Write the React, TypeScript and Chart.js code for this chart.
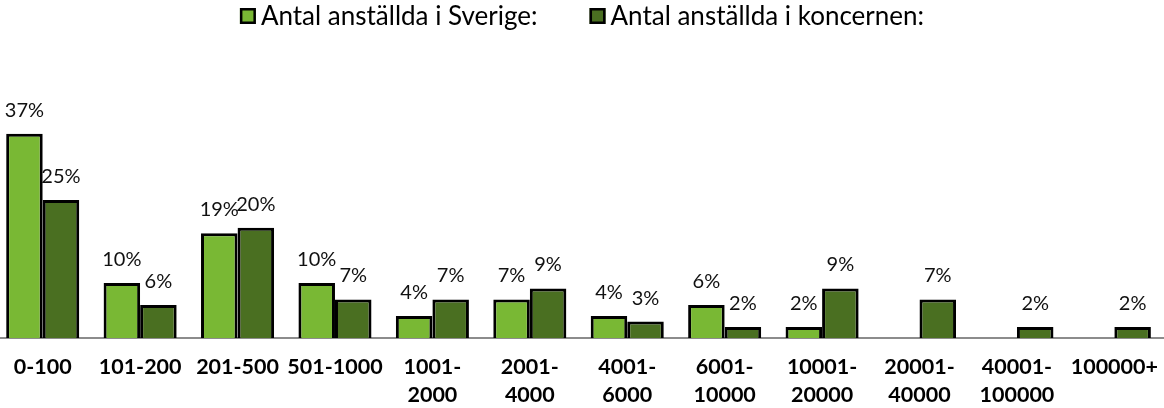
import React, { useEffect, useRef } from 'react';
import { Chart, registerables } from 'chart.js';

Chart.register(...registerables);

const categories: (string | string[])[] = [
  '0-100',
  '101-200',
  '201-500',
  '501-1000',
  ['1001-', '2000'],
  ['2001-', '4000'],
  ['4001-', '6000'],
  ['6001-', '10000'],
  ['10001-', '20000'],
  ['20001-', '40000'],
  ['40001-', '100000'],
  '100000+',
];

const sverige: (number | null)[] = [37, 10, 19, 10, 4, 7, 4, 6, 2, null, null, null];
const koncernen: (number | null)[] = [25, 6, 20, 7, 7, 9, 3, 2, 9, 7, 2, 2];

const seriesNames = ['Antal anställda i Sverige:', 'Antal anställda i koncernen:'];
const seriesColors = ['#79B834', '#4A6F21'];

const valueLabels = {
  id: 'valueLabels',
  afterDatasetsDraw(chart: any) {
    const ctx = chart.ctx;
    ctx.save();
    ctx.font = '20px Lato';
    ctx.fillStyle = '#111';
    ctx.textAlign = 'center';
    ctx.textBaseline = 'alphabetic';
    chart.data.datasets.forEach((ds: any, di: number) => {
      const meta = chart.getDatasetMeta(di);
      meta.data.forEach((el: any, i: number) => {
        const v = ds.data[i];
        if (v === null || v === undefined) return;
        ctx.fillText(v + '%', el.x, el.y - 17);
      });
    });
    ctx.restore();
  },
};

const customLegend = {
  id: 'customLegend',
  afterDraw(chart: any) {
    const ctx = chart.ctx;
    ctx.save();
    ctx.font = '26px Lato';
    const box = 16;
    const gap = 5;
    const itemGap = 52;
    const cy = 16;
    let x = chart.width * 0.21;
    chart.data.datasets.forEach((ds: any) => {
      const w = ctx.measureText(ds.label).width;
      ctx.fillStyle = ds.backgroundColor;
      ctx.fillRect(x, cy - box / 2, box, box);
      ctx.strokeStyle = '#000';
      ctx.lineWidth = 2.5;
      ctx.strokeRect(x + 1.25, cy - box / 2 + 1.25, box - 2.5, box - 2.5);
      ctx.fillStyle = '#000';
      ctx.textAlign = 'left';
      ctx.textBaseline = 'middle';
      ctx.fillText(ds.label, x + box + gap, cy + 1);
      x += box + gap + w + itemGap;
    });
    ctx.restore();
  },
};

export default function App() {
  const ref = useRef<HTMLCanvasElement | null>(null);
  useEffect(() => {
    if (!ref.current) return;
    Chart.defaults.font.family = 'Lato';
    const chart = new Chart(ref.current, {
      type: 'bar',
      data: {
        labels: categories,
        datasets: [
          {
            label: seriesNames[0],
            data: sverige,
            backgroundColor: seriesColors[0],
            borderColor: '#000',
            borderWidth: 3,
            categoryPercentage: 0.75,
            barPercentage: 1,
          },
          {
            label: seriesNames[1],
            data: koncernen,
            backgroundColor: seriesColors[1],
            borderColor: '#000',
            borderWidth: 3,
            categoryPercentage: 0.75,
            barPercentage: 1,
          },
        ],
      },
      options: {
        animation: false,
        responsive: true,
        maintainAspectRatio: false,
        layout: { padding: { top: 62, bottom: 0, left: 0, right: 0 } },
        plugins: {
          legend: { display: false },
          tooltip: { enabled: false },
        },
        scales: {
          x: {
            grid: { display: false, drawTicks: true, tickLength: 8 },
            border: { display: true, color: '#8c8c8c', width: 2 },
            ticks: {
              color: '#000',
              font: { size: 21.5, weight: 'bold', family: 'Lato', lineHeight: 1.3 },
              maxRotation: 0,
              autoSkip: false,
              padding: 7,
            },
          },
          y: {
            display: false,
            min: 0,
            max: 50,
          },
        },
      },
      plugins: [valueLabels, customLegend],
    });
    return () => chart.destroy();
  }, []);
  return (
    <div style={{ position: 'fixed', left: 0, top: 0, width: 1164, height: 408, overflow: 'hidden', background: '#fff' }}>
      <div style={{ position: 'absolute', left: -6, top: 0, width: 1171, height: 416 }}>
        <canvas ref={ref} />
      </div>
    </div>
  );
}
